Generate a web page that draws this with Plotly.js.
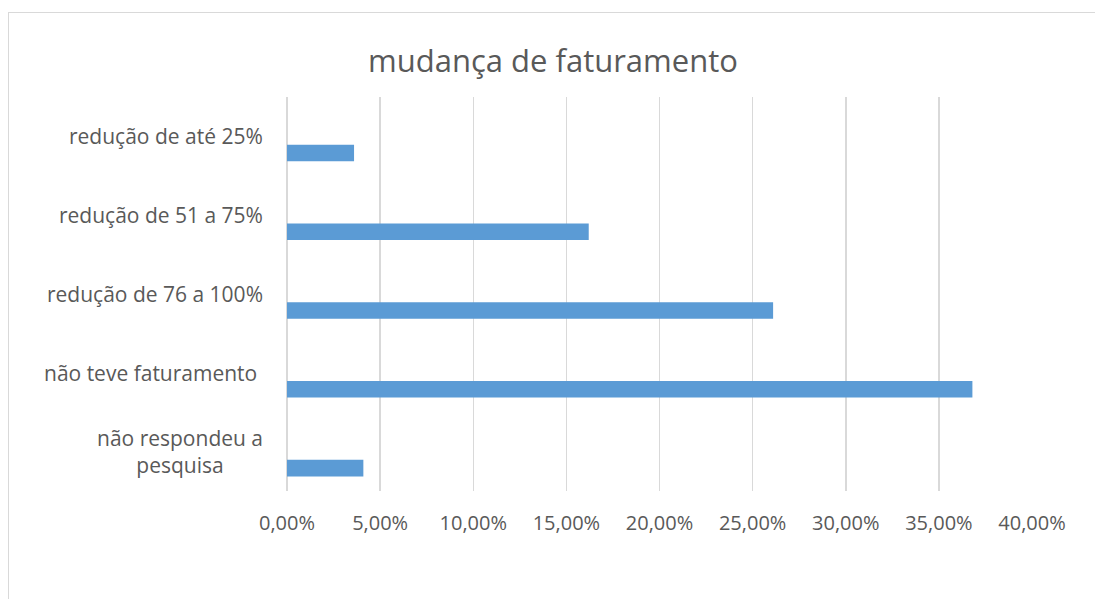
<!DOCTYPE html>
<html>
<head>
<meta charset="utf-8">
<script src="https://cdn.plot.ly/plotly-3.0.1.min.js"></script>
<style>
  html, body { margin: 0; padding: 0; background: #ffffff; overflow: hidden; }
  #frame { position: absolute; left: 8px; top: 12px; width: 1200px; height: 700px;
           border: 1.5px solid #d9d9d9; box-sizing: border-box; pointer-events: none; }
  #chart { position: absolute; left: 0; top: 0; width: 1095px; height: 599px; }
</style>
</head>
<body>
<div id="frame"></div>
<div id="chart"></div>
<script>
// Data
const categories = [
  "redução de até 25%",
  "redução de 51 a 75%",
  "redução de 76 a 100%",
  "não teve faturamento\u00a0",
  "não respondeu a<br>pesquisa"
];
const values = [0.036, 0.162, 0.261, 0.368, 0.041];
const tickValues = [0, 0.05, 0.10, 0.15, 0.20, 0.25, 0.30, 0.35, 0.40];
const chartTitle = "mudança de faturamento";

const textColor = "#595959";
const fontFamily = "'Open Sans', 'DejaVu Sans', sans-serif";

const trace = {
  type: "bar",
  orientation: "h",
  y: categories,
  x: values,
  width: 0.21,
  offset: 0.105,
  marker: { color: "#5b9bd5", line: { width: 0 } },
  hoverinfo: "x+y"
};

const annotations = categories.map(c => ({
  xref: "paper", yref: "y",
  x: 0, y: c,
  xanchor: "right", yanchor: "middle",
  xshift: -22,
  align: "center",
  showarrow: false,
  text: c,
  font: { family: fontFamily, size: 21, color: textColor }
}));

const layout = {
  width: 1095,
  height: 599,
  margin: { l: 287, r: 63, t: 97, b: 108, pad: 0 },
  paper_bgcolor: "rgba(0,0,0,0)",
  plot_bgcolor: "rgba(0,0,0,0)",
  separators: ",.",
  showlegend: false,
  title: {
    text: chartTitle,
    xref: "container", x: 0.505, xanchor: "center",
    yref: "container", y: 0.898, yanchor: "middle",
    font: { family: fontFamily, size: 31, color: textColor }
  },
  xaxis: {
    range: [0, 0.40],
    tickvals: tickValues,
    tickformat: ".2%",
    showgrid: true,
    gridcolor: "#d9d9d9",
    gridwidth: 1.5,
    zeroline: true,
    zerolinecolor: "#d9d9d9",
    zerolinewidth: 1.5,
    showline: false,
    ticks: "",
    ticklabelstandoff: 18,
    tickfont: { family: fontFamily, size: 20, color: textColor },
    fixedrange: true
  },
  yaxis: {
    type: "category",
    autorange: "reversed",
    showticklabels: false,
    showgrid: false,
    zeroline: false,
    showline: false,
    ticks: "",
    fixedrange: true
  },
  annotations: annotations
};

Plotly.newPlot("chart", [trace], layout, { displayModeBar: false, staticPlot: true });
</script>
</body>
</html>
